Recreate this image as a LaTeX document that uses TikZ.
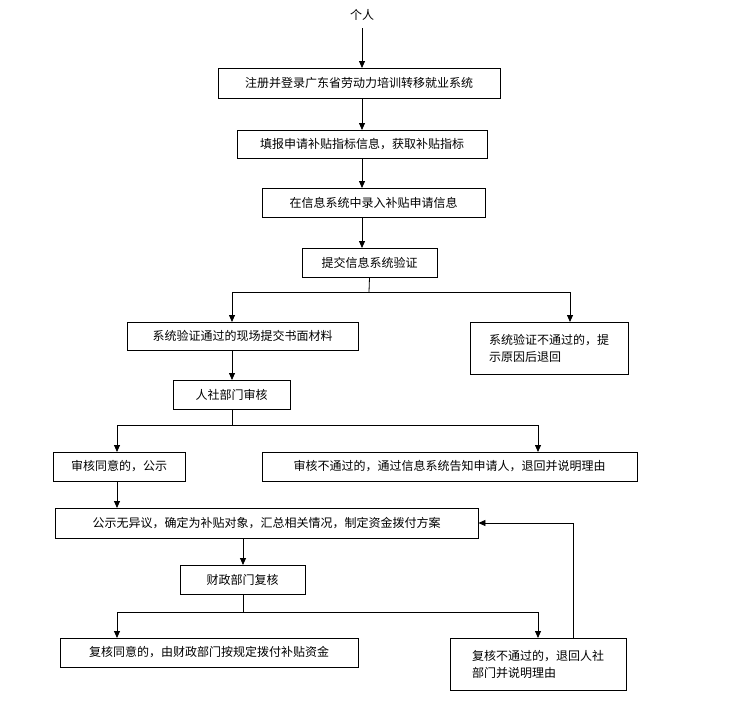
\documentclass[tikz,border=0pt]{standalone}
\usepackage{fontspec}
\setmainfont{Noto Sans CJK SC}
\usetikzlibrary{arrows.meta}
\begin{document}
\begin{tikzpicture}[x=1pt,y=-1pt,
  box/.style={draw,line width=0.8pt,inner sep=2pt,font=\fontsize{12}{17}\selectfont,align=left},
  arr/.style={-{Triangle[length=7pt,width=6pt]},line width=0.8pt},
  ln/.style={line width=0.8pt}]
\useasboundingbox (0,0) rectangle (734,705);
\node[font=\fontsize{12}{15}\selectfont] (p) at (362,15) {个人};
\node[box,minimum width=282pt,minimum height=30pt] (b1) at (359,83) {注册并登录广东省劳动力培训转移就业系统};
\node[box,minimum width=250pt,minimum height=28pt] (b2) at (362,144) {填报申请补贴指标信息，获取补贴指标};
\node[box,minimum width=223pt,minimum height=29pt] (b3) at (373.5,202.5) {在信息系统中录入补贴申请信息};
\node[box,minimum width=135pt,minimum height=29pt] (b4) at (369.5,262.5) {提交信息系统验证};
\node[box,minimum width=231pt,minimum height=28pt] (b5) at (242.5,336) {系统验证通过的现场提交书面材料};
\node[box,minimum width=158pt,minimum height=52pt] (b6) at (549,348) {系统验证不通过的，提\\示原因后退回};
\node[box,minimum width=117pt,minimum height=29pt] (b7) at (231.5,394.5) {人社部门审核};
\node[box,minimum width=132pt,minimum height=29pt] (b8) at (119,466.5) {审核同意的，公示};
\node[box,minimum width=375pt,minimum height=29pt] (b9) at (449.5,466.5) {审核不通过的，通过信息系统告知申请人，退回并说明理由};
\node[box,minimum width=423pt,minimum height=30pt] (b10) at (266.5,523) {公示无异议，确定为补贴对象，汇总相关情况，制定资金拨付方案};
\node[box,minimum width=125pt,minimum height=29pt] (b11) at (242.5,579.5) {财政部门复核};
\node[box,minimum width=298pt,minimum height=29pt] (b12) at (209,652.5) {复核同意的，由财政部门按规定拨付补贴资金};
\node[box,minimum width=176pt,minimum height=52pt] (b13) at (538,664) {复核不通过的，退回人社\\部门并说明理由};
\coordinate (j1) at (369,292);
\coordinate (j2) at (232,425);
\coordinate (j3) at (243,612);
\draw[arr] (362,28) -- (362,68);
\draw[arr] (362,98) -- (362,130);
\draw[arr] (362,158) -- (362,188);
\draw[arr] (362,217) -- (362,248);
\draw[ln] (b4.south) -- (j1);
\draw[ln] (232,292) -- (570,292);
\draw[arr] (232,292) -- (232,322);
\draw[arr] (570,292) -- (570,322);
\draw[arr] (232,350) -- (232,380);
\draw[ln] (232,409) -- (j2);
\draw[ln] (117,425) -- (538,425);
\draw[arr] (117,425) -- (117,452);
\draw[arr] (538,425) -- (538,452);
\draw[arr] (117,481) -- (117,508);
\draw[arr] (243,538) -- (243,565);
\draw[ln] (243,594) -- (j3);
\draw[ln] (117,612) -- (538,612);
\draw[arr] (117,612) -- (117,638);
\draw[arr] (538,612) -- (538,638);
\draw[arr] (573,638) -- (573,523) -- (b10.east);
\end{tikzpicture}
\end{document}
